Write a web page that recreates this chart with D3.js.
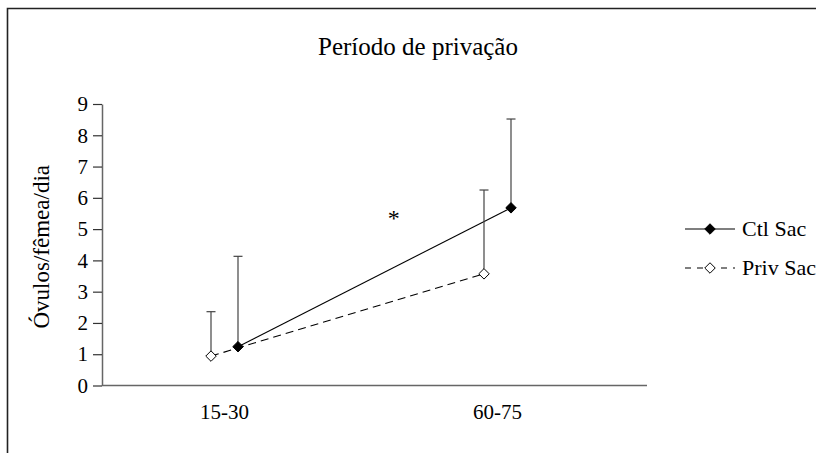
<!DOCTYPE html>
<html>
<head>
<meta charset="utf-8">
<script src="https://cdn.jsdelivr.net/npm/d3@7"></script>
<style>
  html, body { margin: 0; padding: 0; background: #fff; }
  svg { display: block; }
  text { font-family: "Liberation Serif", "DejaVu Serif", serif; fill: #000; }
</style>
</head>
<body>
<svg id="chart" width="816" height="453"></svg>
<script>
// Oocyte production by deprivation period
const categories = ["15-30", "60-75"];
const seriesNames = ["Ctl Sac", "Priv Sac"];
const ctlMean = [1.24, 5.68];
const ctlErr = [2.89, 2.84];
const privMean = [0.94, 3.57];
const privErr = [1.42, 2.68];
const yTicks = [0, 1, 2, 3, 4, 5, 6, 7, 8, 9];
const titleText = "Período de privação";
const yLabel = "Óvulos/fêmea/dia";
const sigMark = { label: "*", between: 0.62, value: 5.45 };

const svg = d3.select("#chart");

// outer frame
svg.append("path")
  .attr("d", "M7.5,453 L7.5,8.5 L816,8.5")
  .attr("fill", "none").attr("stroke", "#222").attr("stroke-width", 1.6);

const plot = { left: 102, right: 647, top: 104, bottom: 385.5 };

const y = d3.scaleLinear().domain([0, 9]).range([plot.bottom, plot.top]);
const x = d3.scalePoint().domain(categories).range([88, 634]).padding(0.5);
const seriesOffset = { "Ctl Sac": 13.5, "Priv Sac": -13.5 };

// title
svg.append("text")
  .attr("x", 418).attr("y", 55)
  .attr("text-anchor", "middle")
  .attr("font-size", 25)
  .text(titleText);

// y axis
const yAxis = d3.axisLeft(y).tickValues(yTicks).tickSize(9).tickPadding(5).tickSizeOuter(0);
const gy = svg.append("g").attr("transform", `translate(${plot.left},0)`).call(yAxis);
gy.select(".domain").attr("stroke", "#666").attr("stroke-width", 1.5);
gy.selectAll(".tick line").attr("stroke", "#333").attr("stroke-width", 1.2);
gy.selectAll(".tick text").attr("font-size", 21).attr("font-family", "Liberation Serif").attr("fill", "#000");

// x axis line
svg.append("line")
  .attr("x1", plot.left).attr("x2", plot.right)
  .attr("y1", y(0)).attr("y2", y(0))
  .attr("stroke", "#666").attr("stroke-width", 1.5);

// x category labels
svg.selectAll(".xlab").data(categories).enter().append("text")
  .attr("class", "xlab")
  .attr("x", d => x(d)).attr("y", 419)
  .attr("text-anchor", "middle")
  .attr("font-size", 21)
  .text(d => d);

// y label
svg.append("text")
  .attr("transform", `translate(49,${(plot.top + plot.bottom) / 2 + 2}) rotate(-90)`)
  .attr("text-anchor", "middle")
  .attr("font-size", 23)
  .text(yLabel);

const series = [
  { name: seriesNames[0], mean: ctlMean, err: ctlErr, dash: null, fill: "#000" },
  { name: seriesNames[1], mean: privMean, err: privErr, dash: "8,5", fill: "#fff" }
];

const diamond = d3.symbol().type(d3.symbolDiamond2).size(70);

series.forEach(s => {
  const pts = categories.map((c, i) => ({ x: x(c) + seriesOffset[s.name], v: s.mean[i], e: s.err[i] }));
  // error bars (upper only)
  pts.forEach(p => {
    svg.append("line")
      .attr("x1", p.x).attr("x2", p.x)
      .attr("y1", y(p.v)).attr("y2", y(p.v + p.e))
      .attr("stroke", "#444").attr("stroke-width", 1.2);
    svg.append("line")
      .attr("x1", p.x - 4.5).attr("x2", p.x + 4.5)
      .attr("y1", y(p.v + p.e)).attr("y2", y(p.v + p.e))
      .attr("stroke", "#444").attr("stroke-width", 1.2);
  });
  // connecting line
  svg.append("path")
    .datum(pts)
    .attr("d", d3.line().x(p => p.x).y(p => y(p.v)))
    .attr("fill", "none").attr("stroke", "#000").attr("stroke-width", 1.1)
    .attr("stroke-dasharray", s.dash);
  // markers
  svg.selectAll(null).data(pts).enter().append("path")
    .attr("d", diamond)
    .attr("transform", p => `translate(${p.x},${y(p.v)})`)
    .attr("fill", s.fill).attr("stroke", "#000").attr("stroke-width", 1);
});

// significance mark
const sigX = x(categories[0]) + (x(categories[1]) - x(categories[0])) * sigMark.between;
svg.append("text")
  .attr("x", sigX).attr("y", y(sigMark.value) + 11)
  .attr("text-anchor", "middle")
  .attr("font-size", 24)
  .text(sigMark.label);

// legend
const legend = svg.append("g").attr("transform", "translate(685,229)");
series.forEach((s, i) => {
  const g = legend.append("g").attr("transform", `translate(0,${i * 39})`);
  g.append("line")
    .attr("x1", 0).attr("x2", 50).attr("y1", 0).attr("y2", 0)
    .attr("stroke", "#000").attr("stroke-width", 1.1)
    .attr("stroke-dasharray", s.dash ? "6,6" : null);
  g.append("path")
    .attr("d", diamond)
    .attr("transform", "translate(25,0)")
    .attr("fill", s.fill).attr("stroke", "#000").attr("stroke-width", 1);
  g.append("text")
    .attr("x", 57).attr("y", 7)
    .attr("font-size", 22)
    .text(s.name);
});
</script>
</body>
</html>
